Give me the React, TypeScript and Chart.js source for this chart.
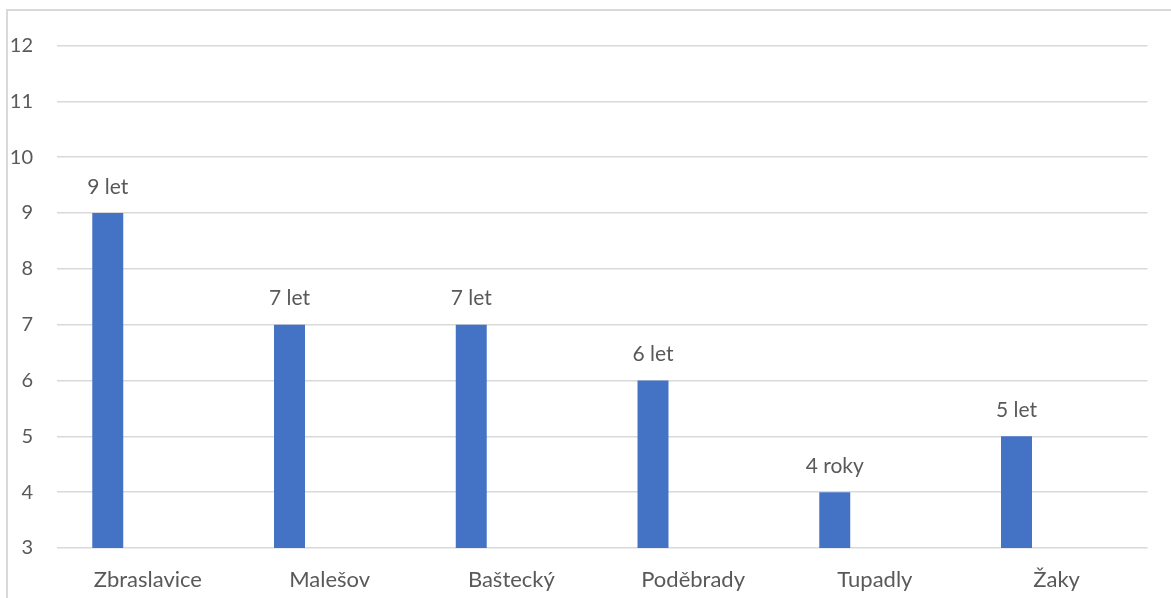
import React, { useEffect, useRef } from "react";
import { Chart, registerables } from "chart.js";

Chart.register(...registerables);

const categories = ["Zbraslavice", "Malešov", "Baštecký", "Poděbrady", "Tupadly", "Žaky"];
const years = [9, 7, 7, 6, 4, 5];
const emptySeries = [null, null, null, null, null, null];
const valueLabels = ["9 let", "7 let", "7 let", "6 let", "4 roky", "5 let"];
const yMin = 3;
const yMax = 12;

const FONT = "Lato";
const TEXT = "#595959";

const labelPlugin = {
  id: "valueLabels",
  afterDatasetsDraw(chart: any) {
    const meta = chart.getDatasetMeta(0);
    const ctx = chart.ctx;
    ctx.save();
    ctx.font = `21px ${FONT}`;
    ctx.fillStyle = TEXT;
    ctx.textAlign = "center";
    ctx.textBaseline = "middle";
    meta.data.forEach((bar: any, i: number) => {
      ctx.fillText(valueLabels[i], bar.x, bar.y - 26);
    });
    ctx.restore();
  },
};

export default function App() {
  const ref = useRef<HTMLCanvasElement>(null);
  useEffect(() => {
    document.body.style.margin = "0";
    const chart = new Chart(ref.current!, {
      type: "bar",
      data: {
        labels: categories,
        datasets: [
          {
            label: "roky",
            data: years,
            backgroundColor: "#4472C4",
            categoryPercentage: 0.883,
            barPercentage: 0.386,
          },
          {
            label: "",
            data: emptySeries,
            backgroundColor: "#ED7D31",
            categoryPercentage: 0.883,
            barPercentage: 0.386,
          },
        ],
      },
      options: {
        animation: false,
        responsive: false,
        layout: { padding: { top: 45.5, right: 23.5, left: 0, bottom: 0 } },
        plugins: { legend: { display: false }, tooltip: { enabled: false } },
        scales: {
          x: {
            grid: { display: false, drawTicks: false },
            border: { display: false },
            ticks: { color: TEXT, font: { family: FONT, size: 22 }, padding: 19, maxRotation: 0 },
            afterFit(s: any) {
              s.height = 50;
            },
          },
          y: {
            min: yMin,
            max: yMax,
            grid: { color: "#d9d9d9", lineWidth: 1.5, drawTicks: false },
            border: { display: false },
            ticks: { stepSize: 1, color: TEXT, font: { family: FONT, size: 20 }, padding: 24 },
            afterFit(s: any) {
              s.width = 57;
            },
          },
        },
      },
      plugins: [labelPlugin],
    });
    return () => chart.destroy();
  }, []);
  return (
    <div style={{ position: "absolute", left: 0, top: 0, width: 1171, height: 598, overflow: "hidden", background: "#fff" }}>
      <div
        style={{
          position: "absolute",
          left: 6,
          top: 9,
          width: 1200,
          height: 700,
          borderLeft: "2px solid #d9d9d9",
          borderTop: "2px solid #d9d9d9",
        }}
      />
      <canvas ref={ref} width={1171} height={598} style={{ position: "absolute", left: 0, top: 0 }} />
    </div>
  );
}
